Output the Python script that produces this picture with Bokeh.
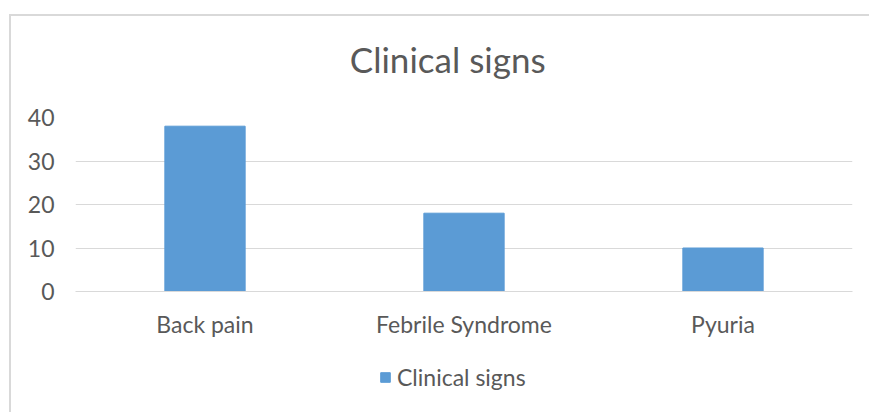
from bokeh.plotting import figure
from bokeh.layouts import column
from bokeh.models import ColumnDataSource, Legend, LegendItem, FixedTicker, Label
from bokeh.embed import file_html
from bokeh.resources import INLINE

categories = ["Back pain", "Febrile Syndrome", "Pyuria"]
values = [38, 18, 10]
series_name = "Clinical signs"
chart_title = "Clinical signs"
y_ticks = [0, 10, 20, 30, 40]

FONT = "Lato"
GRAY = "#595959"
GRID = "#d9d9d9"
BAR = "#5b9bd5"
W = 858


def blank(height):
    f = figure(width=W, height=height, output_backend="svg", toolbar_location=None,
               x_axis_type=None, y_axis_type=None, x_range=(0, W), y_range=(0, height),
               min_border_left=0, min_border_right=0, min_border_top=0, min_border_bottom=0)
    f.outline_line_color = None
    f.xgrid.grid_line_color = None
    f.ygrid.grid_line_color = None
    f.border_fill_color = "white"
    f.background_fill_color = "white"
    return f


# title strip
p0 = blank(81)
p0.add_layout(Label(x=411, y=39, text=chart_title, text_font=FONT, text_font_size="35px",
                    text_color=GRAY, text_align="center", text_baseline="middle"))

# main chart
src = ColumnDataSource(dict(cat=categories, val=values))
p = figure(width=W, height=249, x_range=categories, y_range=(0, 40),
           output_backend="svg", toolbar_location=None,
           min_border_left=64, min_border_right=17, min_border_top=20, min_border_bottom=55)
p.outline_line_color = None
p.background_fill_color = "white"
p.border_fill_color = "white"

r = p.vbar(x="cat", top="val", width=0.31, source=src, color=BAR)

p.xgrid.grid_line_color = None
p.ygrid.grid_line_color = GRID
p.ygrid.grid_line_width = 1
p.yaxis.ticker = FixedTicker(ticks=y_ticks)

p.yaxis.axis_line_color = None
p.yaxis.major_tick_line_color = None
p.yaxis.minor_tick_line_color = None
p.yaxis.major_label_text_font = FONT
p.yaxis.major_label_text_font_size = "23px"
p.yaxis.major_label_text_color = GRAY
p.yaxis.major_label_standoff = 15

p.xaxis.axis_line_color = GRID
p.xaxis.major_tick_line_color = None
p.xaxis.minor_tick_line_color = None
p.xaxis.major_label_text_font = FONT
p.xaxis.major_label_text_font_size = "23px"
p.xaxis.major_label_text_color = GRAY
p.xaxis.major_label_standoff = 12

# legend strip (proxy renderer kept outside the visible range)
p2 = blank(66)
r2 = p2.vbar(x=[-50], top=[-50], bottom=[-60], width=1, color=BAR)
legend = Legend(items=[LegendItem(label=series_name, renderers=[r2])],
                orientation="horizontal", location=(304, 21),
                label_text_font=FONT, label_text_font_size="23px",
                label_text_color=GRAY, glyph_width=12, glyph_height=12,
                label_standoff=6, border_line_color=None, background_fill_alpha=0,
                margin=0, padding=0)
p2.add_layout(legend, "center")

layout = column(p0, p, p2, spacing=0, margin=(14, 0, 0, 9),
                styles={"border": "2px solid #d9d9d9"})

open("out.html", "w").write(file_html(layout, INLINE))
